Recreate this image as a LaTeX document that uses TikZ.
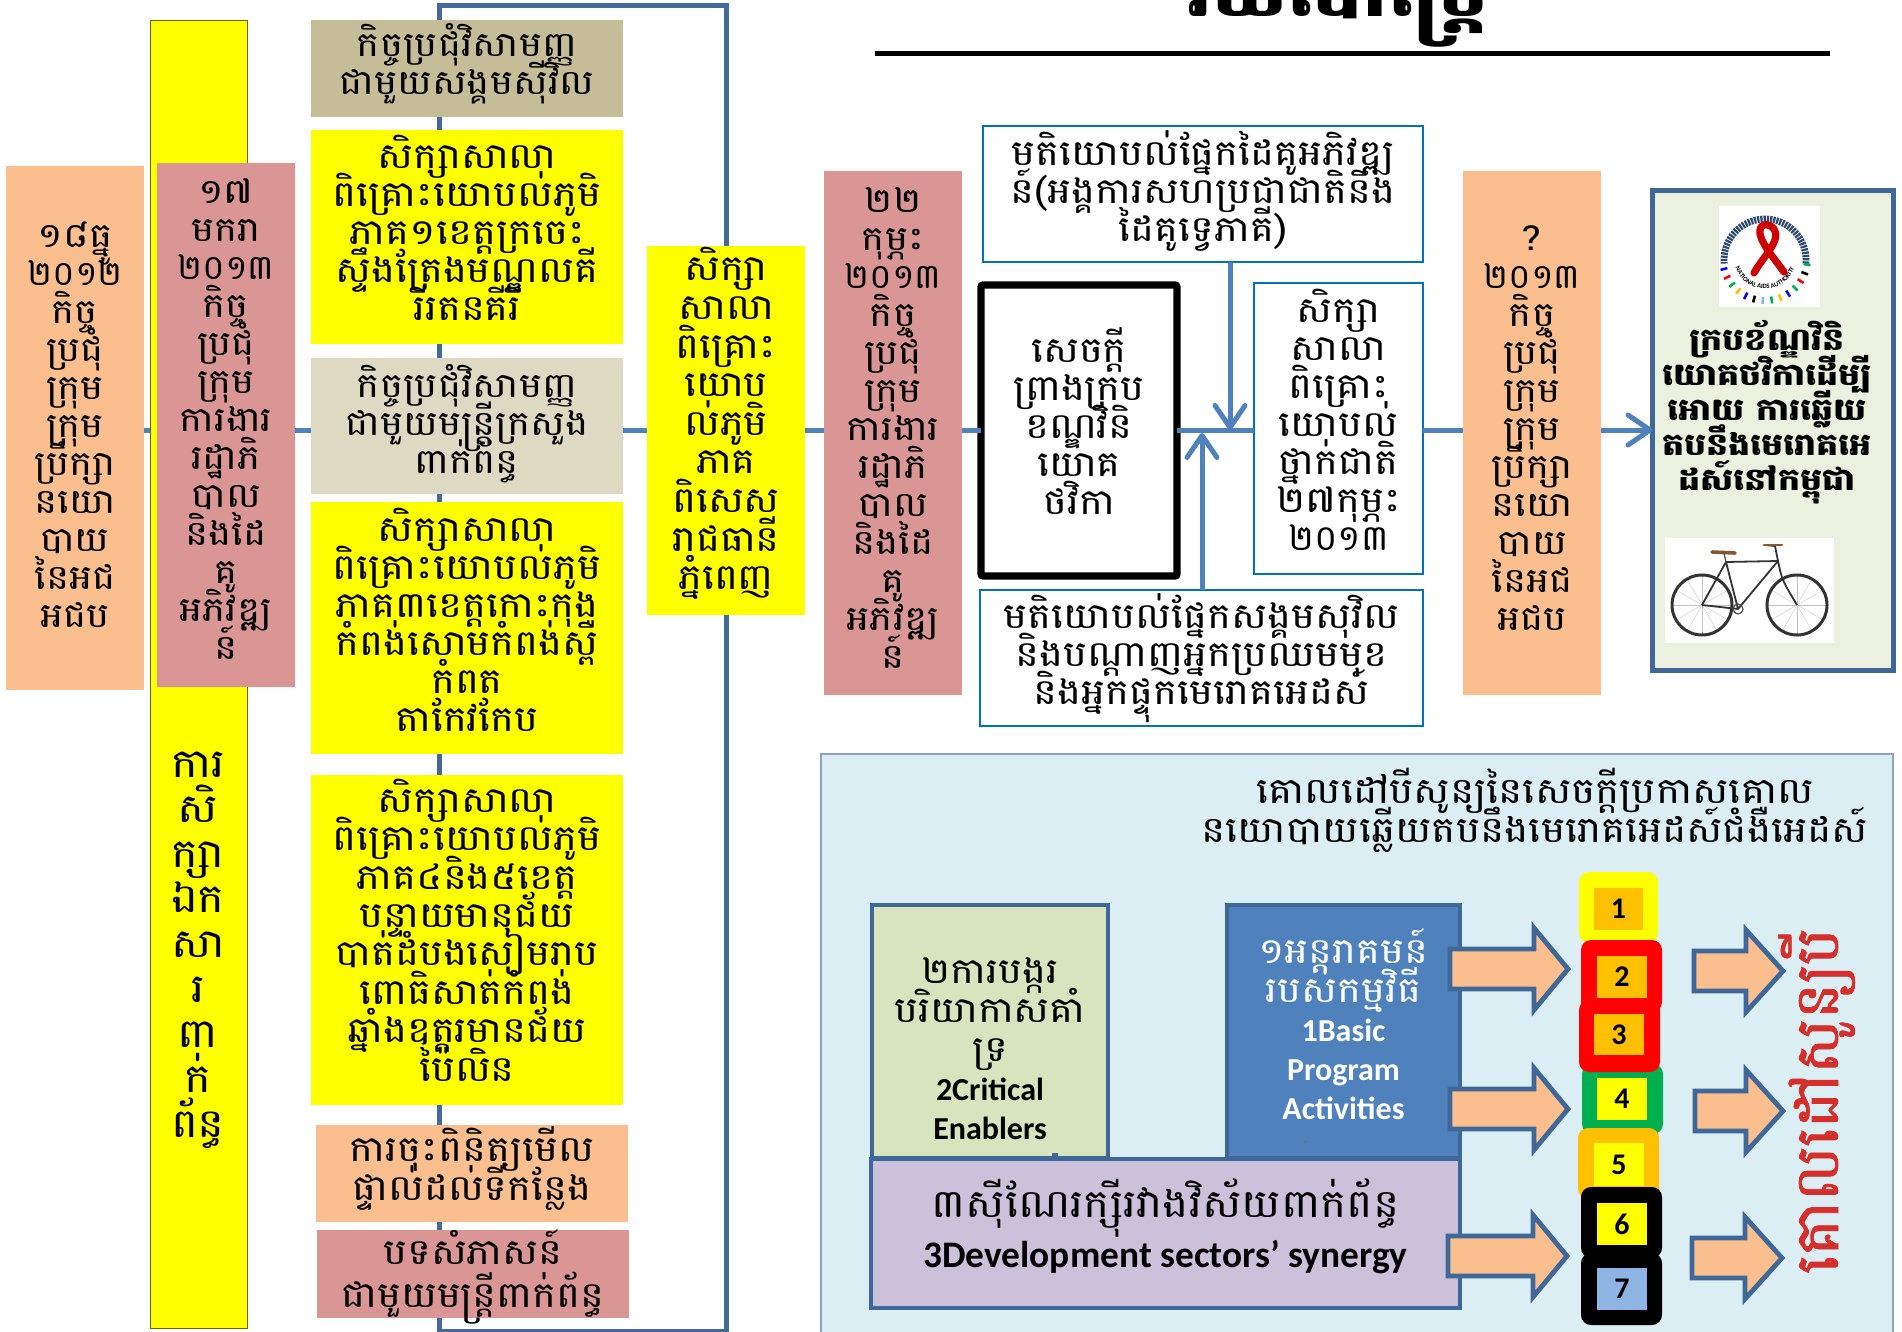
\documentclass[tikz,border=0pt]{standalone}
\usepackage{fontspec}
\usetikzlibrary{arrows.meta,decorations.text}
\newfontfamily\kh[Script=Khmer,FakeStretch=1.13]{Battambang}
\newfontfamily\khn[Script=Khmer]{Battambang}
\newfontfamily\khg[Script=Khmer,FakeBold=1.2]{Battambang}
\newfontfamily\cb{Carlito}
\normallineskiplimit=-100pt
\lineskiplimit=-100pt
\AtBeginDocument{\normallineskiplimit=-100pt \lineskiplimit=-100pt}
\definecolor{org}{HTML}{FBBF8F}
\definecolor{pnk}{HTML}{D99694}
\definecolor{tan1}{HTML}{C4BD97}
\definecolor{tan2}{HTML}{DDD9C3}
\definecolor{frm}{HTML}{44699A}
\definecolor{lnk}{HTML}{4F81BD}
\definecolor{bdr}{HTML}{3F6797}
\definecolor{wbd}{HTML}{0070C0}
\definecolor{grn}{HTML}{EBF1DE}
\definecolor{pan}{HTML}{DBEEF4}
\definecolor{sag}{HTML}{D7E4BD}
\definecolor{pur}{HTML}{CCC1DA}
\definecolor{amb}{HTML}{FFC000}
\definecolor{gr2}{HTML}{00B050}
\definecolor{sky}{HTML}{8EB4E3}
\definecolor{rdt}{HTML}{D42F2B}
\definecolor{yel}{HTML}{FFFF00}
\definecolor{rd}{HTML}{FF0000}
\newcommand{\lat}[1]{{\cb\bfseries\fontsize{16}{19}\selectfont #1}}
\newcommand{\dg}[1]{{\khn #1}}
\tikzset{
  x=0.5pt,y=-0.5pt,
  bx/.style n args={4}{rectangle,inner sep=0pt,outer sep=0pt,align=center,
    minimum width={(#3-#1)*0.5pt},minimum height={(#4-#2)*0.5pt},
    at={({(#1+#3)/2},{(#2+#4)/2})}},
  kf/.style 2 args={font=\kh\fontsize{#1}{#2}\selectfont},
  kfb/.style 2 args={font=\kh\bfseries\fontsize{#1}{#2}\selectfont},
  lnkl/.style={draw=lnk,line width=2.5pt},
  arr/.style={lnkl,-{Straight Barb[length=11pt,width=15pt,round,line width=2.5pt]}},
  wbox/.style={draw=wbd,line width=1pt,fill=white},
  pbox/.style={draw=bdr,line width=2.2pt},
  blk/.style={draw=bdr,line width=2.4pt,fill=org,miter limit=10},
  inn/.style={font=\cb\bfseries\fontsize{15}{16}\selectfont,text=black},
}
\newcommand{\blockarrow}[6]{% x0 xh x1 yc halfshaft halfhead
  \draw[blk] (#1,#4-#5) -- (#2,#4-#5) -- (#2,#4-#6) -- (#3,#4) -- (#2,#4+#6) -- (#2,#4+#5) -- (#1,#4+#5) -- cycle;}
% name x0 y0 x1 y1 boxstyle textstyle dy text
\newcommand{\tbx}[9]{%
  \node[bx={#2}{#3}{#4}{#5},#6] (#1) {};
  \node[#7,align=center,inner sep=0pt] (#1t) at ({(#2+#4)/2},{(#3+#5)/2+(#8)}) {#9};}
\begin{document}
\begin{tikzpicture}
\useasboundingbox (0,0) rectangle (1902,1332);
\fill[white] (0,0) rectangle (1902,1332);
% frame behind the middle column
\node[bx={439}{6}{726}{1331},draw=frm,line width=2.5pt] (frame) {};
\coordinate (main) at (0,430);
% title
\node[kfb={35}{40},anchor=base,text=black] (title) at (1338,17) {រឃបោប្ត្រេ};
\draw[black,line width=2.5pt] (875,54) coordinate (ruleL) -- (1830,54) coordinate (ruleR);
% left column
\tbx{o1}{6}{166}{144}{690}{fill=org}{kf={17.2}{19}}{-3}{១៨ធ្នូ\\\dg{២០១២}\\កិច្ច\\ប្រជុំ\\ក្រុម\\ក្រុម\\ប្រឹក្សា\\នយោ\\បាយ\\នៃអជ\\អជប}
\node[bx={150}{21}{247}{1328},fill=yel,draw=black!60!yel,line width=0.5pt] (tall) {};
\node[kf={20}{22.5},align=center,inner sep=0pt] (tallt) at (198,950) {ការ\\សិ\\ក្សា\\ឯក\\សា\\រ\\ពា\\ក់\\ព័ន្ធ};
\tbx{p1}{157}{163}{295}{687}{fill=pnk}{kf={17.2}{19}}{-6}{១៧\\មករា\\\dg{២០១៣}\\កិច្ច\\ប្រជុំ\\ក្រុម\\ការងារ\\រដ្ឋាភិ\\បាល\\និងដៃ\\គូ\\អភិវឌ្ឍ\\ន៍}
% middle column
\tbx{A}{311}{20}{623}{117}{fill=tan1}{kf={17.2}{19}}{-5}{កិច្ចប្រជុំវិសាមញ្ញ\\ជាមួយសង្គមស៊ីវិល}
\tbx{B}{311}{130}{623}{344}{fill=yel}{kf={17.8}{19}}{-9}{សិក្សាសាលា\\ពិគ្រោះយោបល់ភូមិ\\ភាគ១ខេត្តក្រចេះ\\ស្ទឹងត្រែងមណ្ឌលគី\\រីរតនគីរី}
\tbx{C}{311}{358}{623}{494}{fill=tan2}{kf={17.2}{19}}{-2}{កិច្ចប្រជុំវិសាមញ្ញ\\ជាមួយមន្ត្រីក្រសួង\\ពាក់ព័ន្ធ}
\tbx{D}{311}{502}{623}{754}{fill=yel}{kf={17.8}{19}}{-8}{សិក្សាសាលា\\ពិគ្រោះយោបល់ភូមិ\\ភាគ៣ខេត្តកោះកុង\\កំពង់សោមកំពង់ស្ពឺ\\កំពត\\តាកែវកែប}
\tbx{E}{311}{775}{623}{1105}{fill=yel}{kf={17.8}{19.2}}{-10}{សិក្សាសាលា\\ពិគ្រោះយោបល់ភូមិ\\ភាគ៤និង៥ខេត្ត\\បន្ទាយមានជ័យ\\បាត់ដំបងសៀមរាប\\ពោធិសាត់កំពង់\\ឆ្នាំងឧត្តរមានជ័យ\\ប៉ៃលិន}
\tbx{F}{316}{1125}{628}{1222}{fill=org}{kf={17.8}{19.5}}{-5}{ការចុះពិនិត្យមើល\\ផ្ទាល់ដល់ទីកន្លែង}
\tbx{G}{317}{1230}{629}{1318}{fill=pnk}{kf={17.8}{21.5}}{3}{បទសំភាសន៍\\ជាមួយមន្ត្រីពាក់ព័ន្ធ}
% centre
\tbx{H}{647}{246}{805}{615}{fill=yel}{kf={17.8}{19.3}}{-7}{សិក្សា\\សាលា\\ពិគ្រោះ\\យោប\\ល់ភូមិ\\ភាគ\\ពិសេស\\រាជធានី\\ភ្នំពេញ}
\tbx{p2}{824}{171}{962}{695}{fill=pnk}{kf={17.2}{19}}{-5}{២២\\កុម្ភះ\\\dg{២០១៣}\\កិច្ច\\ប្រជុំ\\ក្រុម\\ការងារ\\រដ្ឋាភិ\\បាល\\និងដៃ\\គូ\\អភិវឌ្ឍ\\ន៍}
\tbx{I}{983}{126}{1423}{262}{wbox}{kf={17.8}{19}}{-3}{មតិយោបល់ផ្នែកដៃគូអភិវឌ្ឍ\\ន៍(អង្គការសហប្រជាជាតិនិង\\ដៃគូទ្វេភាគី)}
\tbx{S}{981}{285}{1177}{576}{draw=black,line width=3.6pt,rounded corners=1pt,fill=white}{kf={17.8}{19}}{-9}{សេចក្តី\\ព្រាងក្រប\\ខណ្ឌវិនិ\\យោគ\\ថវិកា}
\tbx{J}{1254}{283}{1423}{574}{wbox}{kf={17.8}{19}}{-9}{សិក្សា\\សាលា\\ពិគ្រោះ\\យោបល់\\ថ្នាក់ជាតិ\\២៧កុម្ភះ\\\dg{២០១៣}}
\tbx{K}{980}{590}{1423}{726}{wbox}{kf={17.8}{19}}{0}{មតិយោបល់ផ្នែកសង្គមសុវិល\\និងបណ្តាញអ្នកប្រឈមមុខ\\និងអ្នកផ្ទុកមេរោគអេដស៍}
\tbx{o2}{1463}{171}{1601}{695}{fill=org}{kf={17.2}{19}}{-5}{?\\\dg{២០១៣}\\កិច្ច\\ប្រជុំ\\ក្រុម\\ក្រុម\\ប្រឹក្សា\\នយោ\\បាយ\\នៃអជ\\អជប}
% result box
\node[bx={1652.5}{191}{1893.5}{670},fill=grn,draw=bdr,line width=2.5pt] (Z) {};
\node[kfb={15.4}{17.5},align=center,inner sep=0pt] (Zt) at (1767,412) {ក្របខ័ណ្ឌវិនិ\\យោគថវិកាដើម្បី\\អោយ ការឆ្លើយ\\តបនឹងមេរោគអេ\\ដស៍នៅកម្ពុជា};
% logo
\node[bx={1719}{206}{1820}{307},fill=white] (logo) {};
\draw[draw=bdr!70!black,line width=3.4pt,dash pattern=on 1.1pt off 0.5pt] plot[domain=-5:185,samples=50] ({1765+41*cos(\x)},{260-41*sin(\x)});
\path[decorate,decoration={text along path,text={|\fontsize{3.3}{4}\selectfont\cb\bfseries|NATIONAL AIDS AUTHORITY},text align=center}] plot[domain=185:355,samples=40] ({1765+31*cos(\x)},{258-31*sin(\x)});
\foreach \a/\c in {195/blue,207/rd,219/gr2,231/amb,243/blue,255/black,267/sky,279/gr2,291/amb,303/blue,315/gr2,327/rd,339/black,351/gr2}
  \draw[\c,line width=1.3pt] ({1765+39*cos(\a)},{258-39*sin(\a)}) -- ({1765+46*cos(\a)},{258-46*sin(\a)});
\draw[rd!80!black,line width=3.6pt,line cap=round,line join=round] (1754,273) .. controls (1762,258) and (1782,240) .. (1774,229) .. controls (1769,223) and (1761,223) .. (1760,230) .. controls (1758,240) and (1774,258) .. (1784,272);
% bicycle
\node[bx={1665}{538}{1834}{643},fill=white] (bike) {};
\coordinate (wL) at (1702,605); \coordinate (wR) at (1797,605);
\coordinate (bb) at (1738,609); \coordinate (st) at (1726,562); \coordinate (hd) at (1778,561);
\foreach \a in {0,30,...,330}{\draw[black!25,line width=0.15pt] (wL) -- ++(\a:30); \draw[black!25,line width=0.15pt] (wR) -- ++(\a:30);}
\draw[black!80,line width=1.5pt] (wL) circle[radius=30]; \draw[black!80,line width=1.5pt] (wR) circle[radius=30];
\draw[black!80,line width=0.9pt,line join=round] (wL) -- (st) -- (hd) -- (bb) -- (st) (bb) -- (wL) (hd) .. controls (1782,580) .. (wR) (hd) -- (1775,546) -- (1764,545);
\draw[brown!70!black,line width=1.8pt,line cap=round] (1712,552) -- (1735,553);
\draw[brown!70!black,line width=1.2pt,line cap=round] (1764,545) -- (1782,545);
\draw[black!70,line width=0.6pt] (1726,562) -- (1724,553) (1738,609) circle[radius=5];
% connectors
\draw[lnkl] (o1.east |- main) -- (tall.west |- main);
\draw[lnkl] (p1.east |- main) -- (C.west |- main);
\draw[lnkl] (C.east |- main) -- (H.west |- main);
\draw[lnkl] (H.east |- main) -- (p2.west |- main);
\draw[lnkl] (p2.east |- main) -- (S.west |- main);
\draw[lnkl] (S.east |- main) -- (J.west |- main);
\draw[lnkl] (J.east |- main) -- (o2.west |- main);
\draw[arr] (o2.east |- main) -- (Z.west |- main);
\coordinate (mA) at (1230,430); \coordinate (mB) at (1202,433);
\draw[arr] (I.south -| mA) -- (mA);
\draw[arr] (K.north -| mB) -- (mB);
% lower panel
\node[bx={821}{754}{1893}{1340},fill=pan,draw=bdr!60,line width=0.6pt] (panel) {};
\node[kf={18}{19.5},align=center,inner sep=0pt] (ptitle) at (1535,810) {គោលដៅបីសូន្យនៃសេចក្តីប្រកាសគោល\\នយោបាយឆ្លើយតបនឹងមេរោគអេដស៍ជំងឺអេដស៍};
\tbx{b2}{872}{905}{1108}{1158}{fill=sag,pbox}{kf={17.8}{19.5}}{17}{២ការបង្ករ\\បរិយាកាសគាំ\\ទ្រ\\\lat{2Critical}\\\lat{Enablers}}
\tbx{b1}{1227}{905}{1460}{1158}{fill=lnk,pbox}{kf={17.8}{19.5},text=white}{-7}{១អន្តរាគមន៍\\របស់កម្មវិធី\\\lat{1Basic}\\\lat{Program}\\\lat{Activities}}
\fill[bdr] (1052,1153) rectangle (1058,1158);
\fill[black!55] (1305,1142) circle[radius=1.5];
\tbx{b3}{871}{1159}{1460}{1308}{fill=pur,pbox}{kf={19.5}{25}}{-7}{៣ស៊ីណែរក្ស៊ីរវាងវិស័យពាក់ព័ន្ធ\\{\cb\bfseries\fontsize{18.7}{25}\selectfont 3Development sectors’ synergy}}
% block arrows
\blockarrow{1450}{1534}{1568}{969}{20}{41}
\blockarrow{1450}{1534}{1568}{1109}{20}{41}
\blockarrow{1448}{1533}{1567}{1256}{20}{41}
\blockarrow{1694}{1746}{1783}{971}{20}{41}
\blockarrow{1695}{1746}{1783}{1111}{20}{41}
\blockarrow{1692}{1745}{1782}{1258}{20}{41}
% number stack
\node[bx={1579}{872}{1658}{943},rounded corners=5pt,fill=yel] (c1) {};
\node[bx={1594}{888}{1643}{930},fill=amb,inn] (n1) {1};
\node[bx={1581}{940}{1662}{1012},rounded corners=5pt,fill=rd] (c2) {};
\node[bx={1597}{956}{1647}{998},fill=amb,inn] (n2) {2};
\node[bx={1582}{1064}{1663}{1134},rounded corners=5pt,fill=gr2] (c4) {};
\node[bx={1597}{1078}{1647}{1120},fill=yel,inn] (n4) {4};
\node[bx={1579}{1000}{1660}{1072},rounded corners=5pt,fill=rd] (c3) {};
\node[bx={1594}{1014}{1644}{1055},fill=amb,inn] (n3) {3};
\node[bx={1578}{1128}{1659}{1199},rounded corners=5pt,fill=amb] (c5) {};
\node[bx={1594}{1143}{1644}{1186},fill=yel,inn] (n5) {5};
\node[bx={1581}{1187}{1662}{1258},rounded corners=5pt,fill=black] (c6) {};
\node[bx={1597}{1203}{1647}{1245},fill=yel,inn] (n6) {6};
\node[bx={1581}{1253}{1662}{1325},rounded corners=5pt,fill=black] (c7) {};
\node[bx={1597}{1268}{1647}{1310},fill=sky,inn] (n7) {7};
% red vertical goal
\node[font=\khg\fontsize{30.5}{32}\selectfont,text=rdt,rotate=90,inner sep=0pt,anchor=base] (goal) at (1838,1101) {គោលដៅសូន្យបី};
\end{tikzpicture}
\end{document}
